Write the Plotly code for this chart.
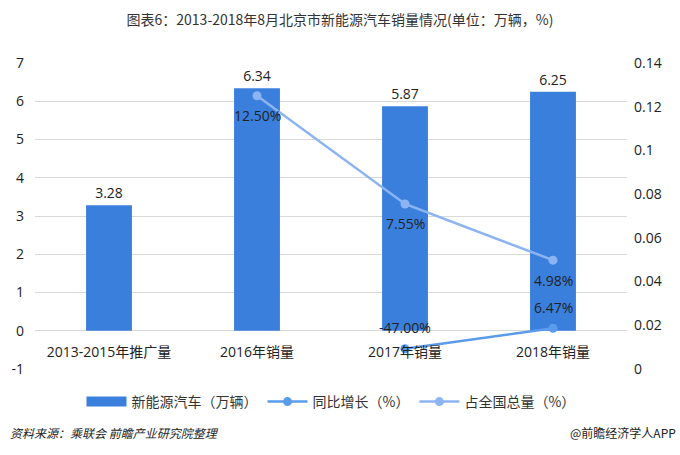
import plotly.graph_objects as go

categories = ["2013-2015年推广量", "2016年销量", "2017年销量", "2018年销量"]
sales = [3.28, 6.34, 5.87, 6.25]
yoy_cats = ["2017年销量", "2018年销量"]
yoy = [-0.47, 0.0647]
yoy_labels = ["-47.00%", "6.47%"]
share_cats = ["2016年销量", "2017年销量", "2018年销量"]
share = [0.125, 0.0755, 0.0498]
share_labels = ["12.50%", "7.55%", "4.98%"]
left_ticks = [-1, 0, 1, 2, 3, 4, 5, 6, 7]
left_ticktext = ["-1", "0", "1", "2", "3", "4", "5", "6", "7"]
right_ticks = [0, 0.02, 0.04, 0.06, 0.08, 0.1, 0.12, 0.14]
right_ticktext = ["0", "0.02", "0.04", "0.06", "0.08", "0.1", "0.12", "0.14"]

W, H = 680, 455
ml, mr, mt, mb = 35, 53, 63, 86
PW, PH = W - ml - mr, H - mt - mb

font = "Open Sans, Noto Sans CJK SC, sans-serif"
cjk = "Noto Sans CJK SC, sans-serif"
BAR = "#3B7FDD"
C1 = "#5B9BEB"
C2 = "#8CB4F2"

fig = go.Figure()
fig.add_trace(go.Bar(
    x=categories, y=sales, name="新能源汽车（万辆）", showlegend=False,
    marker=dict(color=BAR, line=dict(width=0)), width=0.31,
    text=[f"{v:.2f}" for v in sales], textposition="outside",
    textfont=dict(size=14, color="#222", family=font), cliponaxis=False,
))
# legend-only entry with a wide swatch for the bars
fig.add_trace(go.Scatter(
    x=[None], y=[None], mode="lines", name="新能源汽车（万辆）",
    line=dict(color=BAR, width=10),
))
fig.add_trace(go.Scatter(
    x=yoy_cats, y=yoy, name="同比增长（%）", mode="lines+markers",
    line=dict(color=C1, width=2.5), marker=dict(size=9, color=C1), cliponaxis=False,
))
fig.add_trace(go.Scatter(
    x=share_cats, y=share, name="占全国总量（%）", mode="lines+markers",
    line=dict(color=C2, width=2.5), marker=dict(size=9, color=C2),
    yaxis="y2", cliponaxis=False,
))

for c, v, t in zip(yoy_cats, yoy, yoy_labels):
    fig.add_annotation(x=c, y=v, xref="x", yref="y", text=t, showarrow=False,
                       yshift=21, font=dict(size=14, color="#222", family=font))
for c, v, t in zip(share_cats, share, share_labels):
    fig.add_annotation(x=c, y=v, xref="x", yref="y2", text=t, showarrow=False,
                       yshift=-20, font=dict(size=14, color="#222", family=font))

fig.update_layout(
    width=W, height=H,
    margin=dict(l=ml, r=mr, t=mt, b=mb),
    paper_bgcolor="white", plot_bgcolor="white",
    font=dict(family=font, size=14, color="#222"),
    showlegend=True,
    legend=dict(orientation="h", x=0.5, xanchor="center", y=-(386 - (H - mb)) / PH, yanchor="top",
                font=dict(size=14, color="#333", family=cjk), itemwidth=40,
                traceorder="normal", entrywidth=0),
    xaxis=dict(type="category", categoryorder="array", categoryarray=categories,
               anchor="free", position=1 / 8,
               showline=False, showgrid=False, ticks="", ticklabelstandoff=11,
               tickfont=dict(size=14, color="#222", family=font), zeroline=False),
    yaxis=dict(range=[-1, 7], tickvals=left_ticks, ticktext=left_ticktext,
               showgrid=True, gridcolor="#D9D9D9",
               zeroline=False, showline=False, ticks="", ticklabelstandoff=10,
               tickfont=dict(size=14, color="#222")),
    yaxis2=dict(range=[0, 0.14], tickvals=right_ticks, ticktext=right_ticktext,
                overlaying="y", side="right", showgrid=False, zeroline=False,
                showline=False, ticks="", ticklabelstandoff=6,
                tickfont=dict(size=14, color="#222")),
    title=dict(text="图表6：2013-2018年8月北京市新能源汽车销量情况(单位：万辆，%)",
               x=0.5, xanchor="center", y=1 - 20 / H, yanchor="middle",
               font=dict(size=14, color="#333", family=cjk)),
)
fig.add_annotation(text="<i>资料来源：乘联会 前瞻产业研究院整理</i>", xref="paper", yref="paper",
                   x=(8 - ml) / PW, xanchor="left",
                   y=-(432 - (H - mb)) / PH, yanchor="middle", showarrow=False,
                   font=dict(size=12, color="#222", family=cjk))
fig.add_annotation(text="@前瞻经济学人APP", xref="paper", yref="paper",
                   x=1 + (mr - 2) / PW, xanchor="right",
                   y=-(432 - (H - mb)) / PH, yanchor="middle", showarrow=False,
                   font=dict(size=12, color="#222", family=cjk))

fig.write_html("out.html")
